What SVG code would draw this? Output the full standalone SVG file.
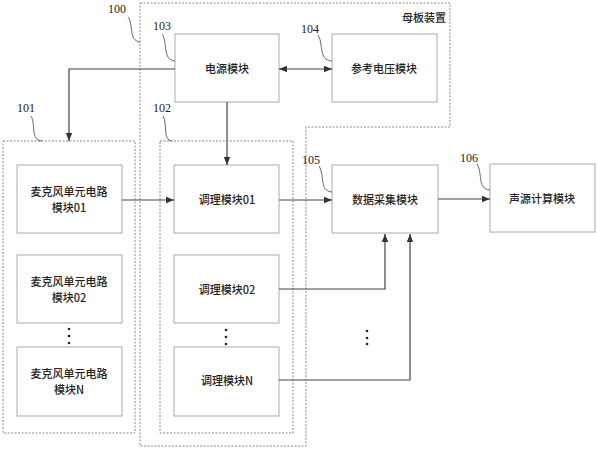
<svg xmlns="http://www.w3.org/2000/svg" width="597" height="450" viewBox="0 0 597 450">
<defs>
<style>
.box{fill:#fff;stroke:#aaa;stroke-width:1}
.grp{fill:none;stroke:#888;stroke-width:1;stroke-dasharray:2,1.5}
.ln{fill:none;stroke:#444;stroke-width:1.2}
.ld{fill:none;stroke:#555;stroke-width:0.9}
.t{font-family:"Noto Sans CJK SC","Noto Sans",sans-serif;font-size:11px;font-weight:500;fill:#222;text-anchor:middle}
.n{font-family:"Liberation Serif",serif;font-size:12px;fill:#222}
.dot{fill:#222}
</style>
<marker id="ah" viewBox="0 0 10 10" refX="10" refY="5" markerWidth="8" markerHeight="8" orient="auto-start-reverse" markerUnits="userSpaceOnUse">
<path d="M0,1 L10,5 L0,9 Z" fill="#333"/>
</marker>
</defs>
<rect width="597" height="450" fill="#fff"/>

<g id="g100">
<polygon class="grp" points="140,3 450,3 450,127 306,127 306,446 140,446"/>
<text class="t" x="424" y="22">母板装置</text>
<text class="n" x="108" y="13">100</text>
<path class="ld" d="M128,17 C134,25 128,40 140,42"/>
</g>
<g id="g101">
<rect class="grp" x="3" y="141" width="132" height="292"/>
<text class="n" x="17" y="112">101</text>
<path class="ld" d="M31,116 C36,124 30,140 42,141"/>
</g>
<g id="g102">
<rect class="grp" x="160" y="141" width="133" height="292"/>
<text class="n" x="153" y="112">102</text>
<path class="ld" d="M163,116 C168,124 162,140 172,141"/>
</g>

<g id="n103">
<rect class="box" x="175" y="34" width="104" height="68"/>
<text class="t" x="227" y="73">电源模块</text>
<text class="n" x="153" y="30">103</text>
<path class="ld" d="M162,34 C168,42 162,60 175,61"/>
</g>
<g id="n104">
<rect class="box" x="332" y="34" width="105" height="68"/>
<text class="t" x="384" y="73">参考电压模块</text>
<text class="n" x="301" y="33">104</text>
<path class="ld" d="M318,35 C324,45 318,60 332,61"/>
</g>

<g id="mic01">
<rect class="box" x="17" y="165" width="105" height="68"/>
<text class="t" x="69" y="196">麦克风单元电路</text>
<text class="t" x="69" y="212">模块01</text>
</g>
<g id="mic02">
<rect class="box" x="17" y="255" width="105" height="68"/>
<text class="t" x="69" y="286">麦克风单元电路</text>
<text class="t" x="69" y="302">模块02</text>
</g>
<g id="micN">
<rect class="box" x="17" y="347" width="105" height="69"/>
<text class="t" x="69" y="378">麦克风单元电路</text>
<text class="t" x="69" y="394">模块N</text>
</g>
<g id="micdots">
<circle class="dot" cx="69" cy="329" r="1.3"/>
<circle class="dot" cx="69" cy="336" r="1.3"/>
<circle class="dot" cx="69" cy="343" r="1.3"/>
</g>

<g id="c01">
<rect class="box" x="174" y="165" width="105" height="68"/>
<text class="t" x="227" y="204">调理模块01</text>
</g>
<g id="c02">
<rect class="box" x="174" y="255" width="105" height="68"/>
<text class="t" x="227" y="294">调理模块02</text>
</g>
<g id="cN">
<rect class="box" x="174" y="347" width="105" height="69"/>
<text class="t" x="227" y="385">调理模块N</text>
</g>
<g id="cdots">
<circle class="dot" cx="226" cy="330" r="1.3"/>
<circle class="dot" cx="226" cy="337" r="1.3"/>
<circle class="dot" cx="226" cy="344" r="1.3"/>
</g>

<g id="n105">
<rect class="box" x="332" y="165" width="106" height="68"/>
<text class="t" x="385" y="204">数据采集模块</text>
<text class="n" x="302" y="164">105</text>
<path class="ld" d="M319,166 C325,176 319,191 332,192"/>
</g>
<g id="n106">
<rect class="box" x="490" y="164" width="105" height="68"/>
<text class="t" x="542" y="203">声源计算模块</text>
<text class="n" x="460" y="162">106</text>
<path class="ld" d="M477,164 C483,174 477,189 490,190"/>
</g>
<g id="adots">
<circle class="dot" cx="367" cy="331" r="1.3"/>
<circle class="dot" cx="367" cy="338" r="1.3"/>
<circle class="dot" cx="367" cy="344" r="1.3"/>
</g>

<g id="connectors">
<line class="ln" x1="279" y1="69" x2="332" y2="69" marker-start="url(#ah)" marker-end="url(#ah)"/>
<polyline class="ln" points="175,69 69,69 69,141" marker-end="url(#ah)"/>
<line class="ln" x1="227" y1="102" x2="227" y2="165" marker-end="url(#ah)"/>
<line class="ln" x1="122" y1="200" x2="174" y2="200" marker-end="url(#ah)"/>
<line class="ln" x1="279" y1="200" x2="332" y2="200" marker-end="url(#ah)"/>
<line class="ln" x1="438" y1="199" x2="490" y2="199" marker-end="url(#ah)"/>
<polyline class="ln" points="279,289 385,289 385,234" marker-end="url(#ah)"/>
<polyline class="ln" points="279,380 410,380 410,234" marker-end="url(#ah)"/>
</g>
</svg>
